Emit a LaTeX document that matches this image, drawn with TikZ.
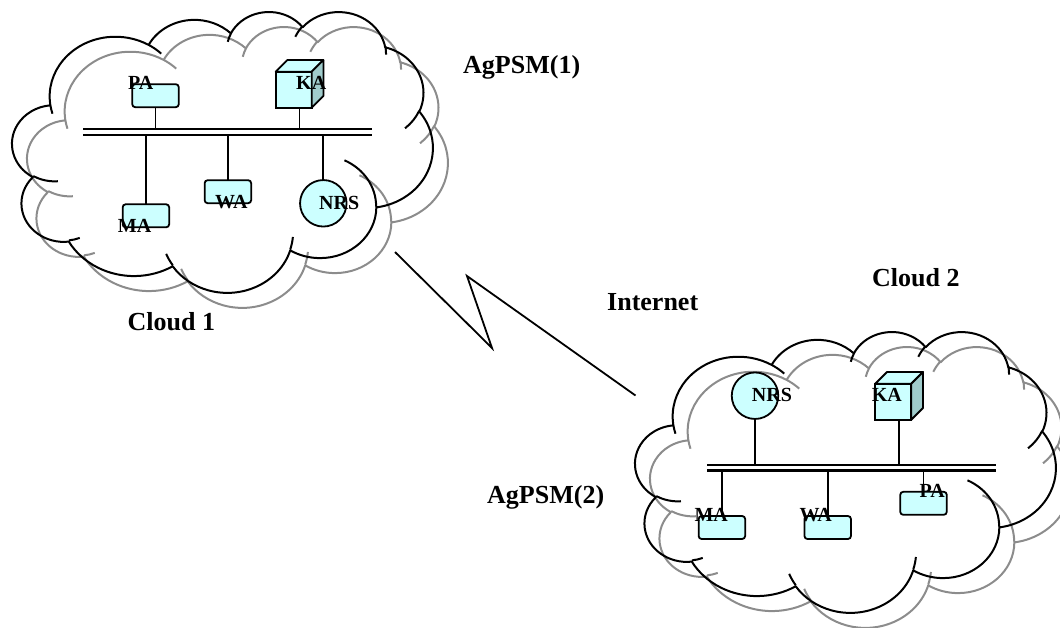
\documentclass[tikz,border=0pt]{standalone}
\usepackage{fontspec}
\setmainfont{Liberation Serif}
\definecolor{agentfill}{HTML}{CCFFFF}
\definecolor{cubeside}{HTML}{A0CCCC}
\definecolor{shadowgray}{HTML}{8C8C8C}
\tikzset{
  % elliptic arc given by radii, visual start angle and sweep
  carc/.style n args={4}{x radius=#1, y radius=#2,
    start angle={atan2((#1)*sin(#3),(#2)*cos(#3))},
    delta angle={mod(atan2((#1)*sin((#3)+(#4)),(#2)*cos((#3)+(#4)))-atan2((#1)*sin(#3),(#2)*cos(#3))+720,360)}},
  cloudline/.style={line width=2pt, line join=round},
  shadowline/.style={cloudline, draw=shadowgray},
  agentbox/.style={draw, line width=1.8pt, fill=agentfill, rounded corners=3pt,
    minimum width=46.5pt, minimum height=23pt, inner sep=0pt, outer sep=0pt},
  server/.style={draw, circle, line width=1.8pt, fill=agentfill,
    minimum size=46.5pt, inner sep=0pt, outer sep=0pt},
  cubefront/.style={draw, line width=1.8pt, fill=agentfill,
    minimum size=36pt, inner sep=0pt, outer sep=0pt},
  cubeface/.style={draw, line width=1.8pt, line join=round},
  busline/.style={line width=2.4pt},
  link/.style={line width=1.8pt},
  lab/.style={font=\fontsize{20}{24}\selectfont\bfseries, inner sep=0pt, anchor=base west},
  biglab/.style={font=\fontsize{26}{30}\selectfont\bfseries, inner sep=0pt, anchor=base west}
}
% cloud outline in a 432 x 432 frame (y pointing down)
\newcommand\cloudoutline[1]{%
  \draw[#1] (39.00,143.70)
    arc[carc={67.53}{91.90}{-190.4875}{123.7805}]
    arc[carc={53.33}{72.67}{-144.1024}{89.9452}]
    arc[carc={43.65}{59.45}{-145.8079}{99.7230}]
    arc[carc={48.57}{65.95}{-130.9861}{117.2417}]
    arc[carc={53.33}{72.73}{-78.7089}{109.0269}]
    arc[carc={67.75}{92.20}{-46.2673}{130.2690}]
    arc[carc={57.85}{78.67}{0.6250}{114.0333}]
    arc[carc={67.52}{92.15}{22.4516}{115.1726}]
    arc[carc={77.20}{105.43}{66.2426}{75.7110}]
    arc[carc={43.60}{59.18}{-274.9421}{146.7356}]
    arc[carc={43.45}{59.45}{-246.8285}{152.5189}] -- cycle
    (46.93,261.77) arc[carc={43.45}{59.45}{86.742}{26.4295}]
    (69.28,348.99) arc[carc={43.60}{59.18}{73.6105}{11.4475}]
    (164.78,390.90) arc[carc={67.52}{92.15}{137.6242}{14.0811}]
    (288.27,347.51) arc[carc={67.52}{92.15}{6.4533}{15.9984}]
    (341.29,229.54) arc[carc={57.85}{78.67}{-70.2924}{70.9174}]
    (417.98,153.54) arc[carc={53.33}{72.73}{30.3180}{27.7515}]
    (383.24,54.26) arc[carc={48.57}{65.95}{-13.7443}{14.8585}]
    (290.78,39.52) arc[carc={48.57}{65.95}{-149.1815}{18.1954}]
    (221.41,47.20) arc[carc={43.65}{59.45}{-163.4943}{17.6864}]
    (140.00,51.92) arc[carc={67.53}{91.90}{-66.7070}{12.3194}]
    (41.27,157.89) arc[carc={67.53}{91.90}{157.6544}{11.8582}];%
}
\begin{document}
\begin{tikzpicture}[x=1pt,y=-1pt]
\useasboundingbox (0,0) rectangle (1060,627);
\clip (0,0) rectangle (1060,627);

% shadow outlines, then the clouds themselves
\begin{scope}[shift={(27.3,26.1)},x=0.9733pt,y=-0.6499pt]
  \cloudoutline{shadowline}
\end{scope}
\begin{scope}[shift={(650.3,346.1)},x=0.9733pt,y=-0.6499pt]
  \cloudoutline{shadowline}
\end{scope}
\begin{scope}[shift={(12.3,11.1)},x=0.9733pt,y=-0.6499pt]
  \cloudoutline{cloudline}
\end{scope}
\begin{scope}[shift={(635.3,331.1)},x=0.9733pt,y=-0.6499pt]
  \cloudoutline{cloudline}
\end{scope}

% ---- Cloud 1 ----
\coordinate (b1a) at (83,129);
\coordinate (b1b) at (372,129);
\coordinate (b1c) at (83,134.7);
\coordinate (b1d) at (372,134.7);
\draw[busline] (b1a) -- (b1b);
\draw[busline] (b1c) -- (b1d);

\node[agentbox] (c1pa) at (155.5,95.7) {};
\node[agentbox] (c1ma) at (145.9,215.8) {};
\node[agentbox] (c1wa) at (227.9,191.7) {};
\node[server] (c1nrs) at (323.3,203.3) {};
\node[cubefront] (c1ka) at (293.7,89.7) {};
\draw[cubeface, fill=agentfill] (c1ka.north west) -- ++(11.7,-11.7) -- ++(36,0) -- (c1ka.north east) -- cycle;
\draw[cubeface, fill=cubeside] (c1ka.north east) -- ++(11.7,-11.7) -- ++(0,36) -- (c1ka.south east) -- cycle;
\coordinate (c1kac) at ([xshift=5.85pt]c1ka.south);

\draw[link] (c1pa.south) -- (c1pa.south |- b1a);
\draw[link] (c1kac) -- (c1kac |- b1a);
\draw[link] (c1ma.north) -- (c1ma.north |- b1c);
\draw[link] (c1wa.north) -- (c1wa.north |- b1c);
\draw[link] (c1nrs.north) -- (c1nrs.north |- b1c);

\node[lab] (c1paL) at (128,89) {PA};
\node[lab] (c1kaL) at (296,89.3) {KA};
\node[lab] (c1maL) at (117.7,232) {MA};
\node[lab] (c1waL) at (215,208.3) {WA};
\node[lab] (c1nrsL) at (319,209) {NRS};

% ---- Cloud 2 ----
\coordinate (b2a) at (707,465);
\coordinate (b2b) at (996,465);
\coordinate (b2c) at (707,470.5);
\coordinate (b2d) at (996,470.5);
\draw[busline] (b2a) -- (b2b);
\draw[busline] (b2c) -- (b2d);

\node[server] (c2nrs) at (755,395.7) {};
\node[cubefront] (c2ka) at (893.3,401.7) {};
\draw[cubeface, fill=agentfill] (c2ka.north west) -- ++(11.7,-11.7) -- ++(36,0) -- (c2ka.north east) -- cycle;
\draw[cubeface, fill=cubeside] (c2ka.north east) -- ++(11.7,-11.7) -- ++(0,36) -- (c2ka.south east) -- cycle;
\coordinate (c2kac) at ([xshift=5.85pt]c2ka.south);
\node[agentbox] (c2ma) at (721.9,527.5) {};
\node[agentbox] (c2wa) at (827.7,527.5) {};
\node[agentbox] (c2pa) at (923.5,503.3) {};

\draw[link] (c2nrs.south) -- (c2nrs.south |- b2a);
\draw[link] (c2kac) -- (c2kac |- b2a);
\draw[link] (c2ma.north) -- (c2ma.north |- b2c);
\draw[link] (c2wa.north) -- (c2wa.north |- b2c);
\draw[link] (c2pa.north) -- (c2pa.north |- b2c);

\node[lab] (c2nrsL) at (751.7,401.7) {NRS};
\node[lab] (c2kaL) at (871.7,401.7) {KA};
\node[lab] (c2maL) at (694.3,521) {MA};
\node[lab] (c2waL) at (799.3,521) {WA};
\node[lab] (c2paL) at (919.3,497.3) {PA};

% ---- Internet link ----
\coordinate (z1) at (395,252);
\coordinate (z2) at (492,348);
\coordinate (z3) at (467,276);
\coordinate (z4) at (635.5,395.5);
\draw[link, line join=miter] (z1) -- (z2) -- (z3) -- (z4);

% ---- captions ----
\node[biglab] (agpsm1) at (463,73) {AgPSM(1)};
\node[biglab] (cloud1) at (127.5,330) {Cloud 1};
\node[biglab] (internet) at (607,310) {Internet};
\node[biglab] (cloud2) at (872,286) {Cloud 2};
\node[biglab] (agpsm2) at (487,503) {AgPSM(2)};
\end{tikzpicture}
\end{document}
